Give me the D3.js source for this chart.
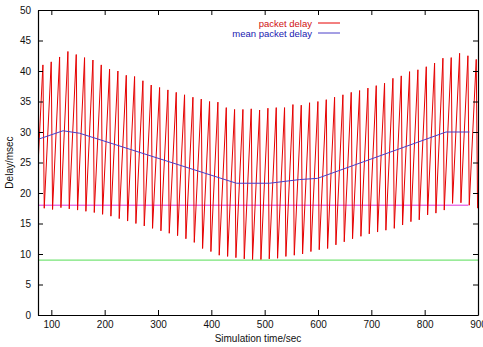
<!DOCTYPE html>
<html>
<head>
<meta charset="utf-8">
<script src="https://cdn.jsdelivr.net/npm/d3@7"></script>
<style>
  body { margin: 0; background: #fff; }
  svg { display: block; font-family: "Liberation Sans", Arial, sans-serif; }
</style>
</head>
<body>
<div id="chart"></div>
<script>
// packet delay: sawtooth, peak then quick drop to trough
var peakTimes = [84.2, 99.8, 115.5, 131.1, 146.7, 162.3, 178.0, 193.6, 209.2, 224.8,
  240.5, 256.1, 271.7, 287.3, 303.0, 318.6, 334.2, 349.8, 365.5, 381.1,
  396.7, 412.3, 428.0, 443.6, 459.2, 474.8, 490.5, 506.1, 521.7, 537.3,
  553.0, 568.6, 584.2, 599.8, 615.5, 631.1, 646.7, 662.3, 678.0, 693.6,
  709.2, 724.8, 740.5, 756.1, 771.7, 787.3, 803.0, 818.6, 834.2, 849.8,
  865.5, 881.1, 896.7];
var peakValues = [41.0, 41.5, 42.3, 43.2, 42.7, 42.2, 41.8, 41.0, 40.3, 40.0,
  39.3, 39.1, 38.4, 37.7, 37.3, 36.9, 36.5, 36.1, 35.7, 35.4,
  35.0, 34.9, 34.0, 33.7, 33.7, 33.8, 33.6, 33.9, 34.0, 34.0,
  34.5, 34.4, 34.8, 35.0, 35.3, 35.7, 36.1, 36.5, 36.8, 37.2,
  37.6, 38.0, 38.8, 39.2, 39.9, 40.2, 40.7, 41.3, 42.1, 42.2,
  42.9, 42.5, 41.9];
var troughTimes = [71.1, 86.7, 102.3, 118.0, 133.6, 149.2, 164.8, 180.5, 196.1, 211.7,
  227.3, 243.0, 258.6, 274.2, 289.8, 305.5, 321.1, 336.7, 352.3, 368.0,
  383.6, 399.2, 414.8, 430.5, 446.1, 461.7, 477.3, 493.0, 508.6, 524.2,
  539.8, 555.5, 571.1, 586.7, 602.3, 618.0, 633.6, 649.2, 664.8, 680.5,
  696.1, 711.7, 727.3, 743.0, 758.6, 774.2, 789.8, 805.5, 821.1, 836.7,
  852.3, 868.0, 883.6, 899.2];
var troughValues = [17.6, 17.5, 17.3, 17.6, 17.4, 17.2, 17.0, 16.8, 16.5, 16.2,
  15.8, 15.4, 15.0, 14.6, 14.2, 13.8, 13.4, 13.0, 12.5, 11.9,
  10.9, 10.4, 9.8, 9.6, 9.4, 9.2, 9.1, 9.1, 9.2, 9.3,
  9.6, 9.8, 10.0, 10.4, 10.7, 10.9, 11.5, 12.0, 12.5, 12.9,
  13.3, 13.6, 13.9, 14.2, 14.75, 15.3, 15.6, 16.4, 16.7, 17.2,
  18.3, 18.4, 18.0, 17.5];

// mean packet delay
var meanTimes = [75, 122, 153, 447, 509, 565, 599, 840, 884];
var meanValues = [28.8, 30.2, 29.8, 21.6, 21.6, 22.2, 22.4, 30.0, 30.0];

// flat reference lines
var upperBound = { times: [75, 882], value: 18 };
var lowerBound = { times: [75, 900], value: 9 };

var xTicks = [100, 200, 300, 400, 500, 600, 700, 800, 900];
var yTicks = [0, 5, 10, 15, 20, 25, 30, 35, 40, 45, 50];
var seriesNames = ["packet delay", "mean packet delay"];

var W = 483, H = 347;
var margin = { top: 10, right: 5, bottom: 32, left: 38 };
var plotW = W - margin.left - margin.right,
  plotH = H - margin.top - margin.bottom;

var svg = d3.select("#chart").append("svg")
  .attr("width", W)
  .attr("height", H);

var g = svg.append("g")
  .attr("transform", "translate(" + margin.left + "," + margin.top + ")");

var x = d3.scaleLinear().domain([75, 900]).range([0, plotW]);
var y = d3.scaleLinear().domain([0, 50]).range([plotH, 0]);

g.append("clipPath").attr("id", "clip")
  .append("rect").attr("width", plotW).attr("height", plotH);

var plot = g.append("g").attr("clip-path", "url(#clip)");

var line = d3.line().x(d => x(d[0])).y(d => y(d[1]));

// green and magenta limits
plot.append("path")
  .attr("d", line(lowerBound.times.map(t => [t, lowerBound.value])))
  .attr("fill", "none").attr("stroke", "#55dd55").attr("stroke-width", 1);
plot.append("path")
  .attr("d", line(upperBound.times.map(t => [t, upperBound.value])))
  .attr("fill", "none").attr("stroke", "#dd33dd").attr("stroke-width", 1);

// sawtooth
var delayPts = [];
for (var i = 0; i < troughTimes.length; i++) {
  delayPts.push([troughTimes[i], troughValues[i]]);
  if (i < peakTimes.length) delayPts.push([peakTimes[i], peakValues[i]]);
}
delayPts.sort((a, b) => a[0] - b[0]);
plot.append("path")
  .attr("d", line(delayPts))
  .attr("fill", "none").attr("stroke", "#e60000").attr("stroke-width", 1);

plot.append("path")
  .attr("d", line(meanTimes.map((t, i) => [t, meanValues[i]])))
  .attr("fill", "none").attr("stroke", "#4a3fc8").attr("stroke-width", 1);

// axes, ticks inward on all four sides
function styleAxis(sel) {
  sel.selectAll("text").attr("fill", "#111").style("font-size", "10px");
  sel.selectAll("line").attr("stroke", "#000");
  sel.select(".domain").attr("stroke", "#000").attr("stroke-width", 1.2);
}

g.append("g")
  .attr("transform", "translate(0," + plotH + ")")
  .call(d3.axisBottom(x).tickValues(xTicks).tickSize(-5).tickSizeOuter(0).tickPadding(6))
  .call(styleAxis);
g.append("g")
  .call(d3.axisTop(x).tickValues(xTicks).tickSize(-5).tickSizeOuter(0).tickFormat(""))
  .call(styleAxis);
g.append("g")
  .call(d3.axisLeft(y).tickValues(yTicks).tickSize(-5).tickSizeOuter(0).tickPadding(7))
  .call(styleAxis);
g.append("g")
  .attr("transform", "translate(" + plotW + ",0)")
  .call(d3.axisRight(y).tickValues(yTicks).tickSize(-5).tickSizeOuter(0).tickFormat(""))
  .call(styleAxis);

// axis titles
svg.append("text")
  .attr("x", margin.left + plotW / 2)
  .attr("y", H - 5)
  .attr("text-anchor", "middle")
  .style("font-size", "10px")
  .attr("fill", "#111")
  .text("Simulation time/sec");

svg.append("text")
  .attr("transform", "translate(13," + (margin.top + plotH / 2) + ") rotate(-90)")
  .attr("text-anchor", "middle")
  .style("font-size", "10px")
  .attr("fill", "#111")
  .text("Delay/msec");

// legend
var legendColors = ["#e60000", "#4a3fc8"];
var legendTextColors = ["#d01010", "#2020b0"];
var legend = svg.append("g");
seriesNames.forEach(function (name, i) {
  var ly = 23 + i * 10;
  legend.append("text")
    .attr("x", 312).attr("y", ly + 3.5)
    .attr("text-anchor", "end")
    .style("font-size", "9.5px")
    .attr("fill", legendTextColors[i])
    .text(name);
  legend.append("line")
    .attr("x1", 318).attr("x2", 340)
    .attr("y1", ly).attr("y2", ly)
    .attr("stroke", legendColors[i]).attr("stroke-width", 1);
});
</script>
</body>
</html>
